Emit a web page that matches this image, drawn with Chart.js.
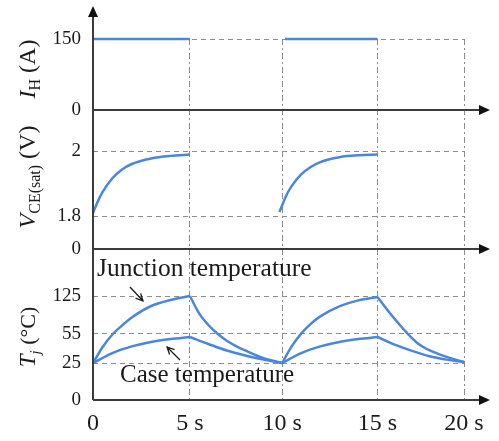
<!DOCTYPE html>
<html>
<head>
<meta charset="utf-8">
<script src="https://cdn.jsdelivr.net/npm/chart.js@4.4.1/dist/chart.umd.min.js"></script>
<style>
  html, body { margin: 0; padding: 0; background: #fff; }
  #wrap { width: 499px; height: 441px; }
</style>
</head>
<body>
<div id="wrap"><canvas id="chart" width="499" height="441"></canvas></div>
<script>
// time axis
const timeTicks = [0, 5, 10, 15, 20];
const timeLabels = ['0', '5 s', '10 s', '15 s', '20 s'];

// heating current I_H (A), null = current switched off
const currentTime = [0, 5, 7.5, 10.15, 15];
const currentAmps = [150, 150, null, 150, 150];
const currentTicks = [0, 150];

// V_CE(sat) (V)
const vceTime = [0, 0.25, 0.5, 1, 1.5, 2, 3, 4, 5, 7.5,
                 9.85, 10.25, 10.5, 11, 11.5, 12, 13, 14, 15];
const vceVolts = [1.809, 1.845, 1.874, 1.916, 1.943, 1.96, 1.977, 1.985, 1.989, null,
                  1.812, 1.867, 1.892, 1.928, 1.951, 1.966, 1.981, 1.987, 1.989];
const vceTicks = [0, 1.8, 2];

// temperatures (°C)
const junctionTime = [0, 0.5, 1, 1.5, 2, 3, 4, 5, 5.5, 6, 6.5, 7, 7.5, 8, 9, 10,
                      10.5, 11, 11.5, 12, 13, 14, 15, 15.7, 16.2, 16.7, 17.3, 17.85, 18.5, 19, 20];
const junctionTemp = [25, 41.6, 54.5, 70.7, 85.4, 106.6, 117.6, 125, 93, 71.6, 55.4, 48, 42.5, 38, 30, 25,
                      42.2, 55.7, 73.6, 87.4, 106, 116.9, 123.2, 94, 75, 57, 45.7, 39.5, 34.5, 31.3, 26];
const caseTime = [0, 1, 2, 3, 4, 5, 6, 7, 8, 9, 10,
                  11, 12, 13, 14, 15, 16, 17, 18, 19, 20];
const caseTemp = [25, 35.3, 42.2, 46.8, 49.8, 51.9, 44.7, 37.9, 32.8, 28.6, 25,
                  35.3, 42.2, 46.8, 49.8, 51.9, 44, 37.5, 32, 28.5, 26];
const tempTicks = [0, 25, 55, 125];

// heating / cooling phases, each drawn as its own smooth piece
const phaseBounds = [0, 5, 10, 15, 20];

// the drawing is schematic: axes are broken, so value -> fraction of axis length
const scaleBreaks = {
  x:  [[0, 0], [5, 0.2612], [10, 0.5098], [15, 0.7668], [20, 1]],
  yV: [[0, 0], [1.8, 0.2374], [2, 0.705], [2.126, 1]],
  yT: [[0, 0], [25, 0.245], [55, 0.4371], [125, 0.6887], [211.6, 1]]
};

const Linear = Chart.LinearScale || Chart.registry.getScale('linear');

class BrokenScale extends Linear {
  static id = 'broken';
  static defaults = {};
  toFraction(v) {
    const b = scaleBreaks[this.id];
    for (let i = 1; i < b.length; i++) {
      if (v <= b[i][0] || i === b.length - 1) {
        const [v0, f0] = b[i - 1], [v1, f1] = b[i];
        return f0 + (v - v0) / (v1 - v0) * (f1 - f0);
      }
    }
  }
  getPixelForValue(v) {
    if (v === null || v === undefined || isNaN(v)) return NaN;
    return this.getPixelForDecimal(this.toFraction(v));
  }
  getValueForPixel(p) {
    const d = this.getDecimalForPixel(p);
    const b = scaleBreaks[this.id];
    for (let i = 1; i < b.length; i++) {
      if (d <= b[i][1] || i === b.length - 1) {
        const [v0, f0] = b[i - 1], [v1, f1] = b[i];
        return v0 + (d - f0) / (f1 - f0) * (v1 - v0);
      }
    }
  }
}
Chart.register(BrokenScale);

const blue = '#4a86de';
const gridColor = '#8c8c8c';
const serif = 'Liberation Serif';

function points(xs, ys) {
  return xs.map((x, i) => ({ x: x, y: ys[i] }));
}

function phasePieces(xs, ys) {
  const pieces = [];
  for (let k = 0; k < phaseBounds.length - 1; k++) {
    const pts = points(xs, ys).filter(p => p.x >= phaseBounds[k] && p.x <= phaseBounds[k + 1]);
    if (pts.length > 1) pieces.push(pts);
  }
  return pieces;
}

function lineSet(data, axis) {
  return {
    data: data,
    yAxisID: axis,
    borderColor: blue,
    borderWidth: 2.5,
    pointRadius: 0,
    fill: false,
    clip: false,
    spanGaps: false,
    cubicInterpolationMode: 'monotone'
  };
}

const datasets = [
  lineSet(points(currentTime, currentAmps), 'yI'),
  lineSet(points(vceTime, vceVolts), 'yV')
];
phasePieces(junctionTime, junctionTemp).forEach(p => datasets.push(lineSet(p, 'yT')));
phasePieces(caseTime, caseTemp).forEach(p => datasets.push(lineSet(p, 'yT')));

function yAxis(min, max, ticks, weight, type) {
  return {
    type: type,
    position: 'left',
    stack: 'panels',
    stackWeight: weight,
    min: min,
    max: max,
    afterBuildTicks: s => { s.ticks = ticks.map(v => ({ value: v })); },
    afterFit: s => { s.width = 93; },
    grid: { color: gridColor, lineWidth: 1, drawTicks: false },
    border: { display: false, dash: [5, 4] },
    ticks: {
      padding: 12,
      autoSkip: false,
      color: '#1a1a1a',
      font: { family: serif, size: 19 }
    }
  };
}

function drawRotated(ctx, parts, cx, cy) {
  ctx.save();
  ctx.translate(cx, cy);
  ctx.rotate(-Math.PI / 2);
  let total = 0;
  parts.forEach(p => { ctx.font = p.font; p.w = ctx.measureText(p.text).width; total += p.w; });
  let x = -total / 2;
  ctx.textBaseline = 'alphabetic';
  parts.forEach(p => { ctx.font = p.font; ctx.fillText(p.text, x, p.dy); x += p.w; });
  ctx.restore();
}

function drawPointer(ctx, x1, y1, x2, y2) {
  const a = Math.atan2(y2 - y1, x2 - x1);
  ctx.beginPath();
  ctx.moveTo(x1, y1);
  ctx.lineTo(x2, y2);
  ctx.moveTo(x2 - 8 * Math.cos(a - 0.45), y2 - 8 * Math.sin(a - 0.45));
  ctx.lineTo(x2, y2);
  ctx.lineTo(x2 - 8 * Math.cos(a + 0.45), y2 - 8 * Math.sin(a + 0.45));
  ctx.stroke();
}

const decorations = {
  id: 'decorations',
  afterDraw(chart) {
    const { ctx, chartArea: a, scales } = chart;
    const x0 = a.left;
    const xEnd = 490;
    ctx.save();
    ctx.strokeStyle = '#3c3c3c';
    ctx.fillStyle = '#111';
    ctx.lineWidth = 2;

    // vertical axis with arrow
    ctx.beginPath();
    ctx.moveTo(x0, a.bottom);
    ctx.lineTo(x0, 15);
    ctx.stroke();
    ctx.beginPath();
    ctx.moveTo(x0, 6);
    ctx.lineTo(x0 - 5, 17);
    ctx.lineTo(x0 + 5, 17);
    ctx.closePath();
    ctx.fill();

    // zero line of each panel is a time axis with arrow
    ['yI', 'yV', 'yT'].forEach(id => {
      const y = Math.round(scales[id].getPixelForValue(0));
      ctx.beginPath();
      ctx.moveTo(x0, y);
      ctx.lineTo(xEnd - 8, y);
      ctx.stroke();
      ctx.beginPath();
      ctx.moveTo(xEnd, y);
      ctx.lineTo(xEnd - 11, y - 5);
      ctx.lineTo(xEnd - 11, y + 5);
      ctx.closePath();
      ctx.fill();
    });

    // axis titles
    ctx.fillStyle = '#1a1a1a';
    const big = '24px "' + serif + '"';
    const bigI = 'italic 24px "' + serif + '"';
    const small = '16px "' + serif + '"';
    drawRotated(ctx, [
      { text: 'I', font: bigI, dy: 8 },
      { text: 'H', font: small, dy: 13 },
      { text: ' (A)', font: big, dy: 8 }
    ], 27, 69);
    drawRotated(ctx, [
      { text: 'V', font: bigI, dy: 8 },
      { text: 'CE(sat)', font: small, dy: 13 },
      { text: ' (V)', font: big, dy: 8 }
    ], 27, 177);
    drawRotated(ctx, [
      { text: 'T', font: 'italic 23px "' + serif + '"', dy: 8 },
      { text: 'j', font: 'italic 15px "' + serif + '"', dy: 13 },
      { text: ' (°C)', font: '22px "' + serif + '"', dy: 8 }
    ], 27, 337);

    // curve annotations
    ctx.textBaseline = 'alphabetic';
    ctx.font = '25.5px "' + serif + '"';
    ctx.fillText('Junction temperature', 97, 276);
    ctx.font = '25px "' + serif + '"';
    ctx.fillText('Case temperature', 120, 382);
    ctx.strokeStyle = '#1a1a1a';
    ctx.lineWidth = 1.3;
    drawPointer(ctx, 130, 287, 143, 301);
    drawPointer(ctx, 180, 360, 167, 347);
    ctx.restore();
  }
};

new Chart(document.getElementById('chart'), {
  type: 'line',
  data: { datasets: datasets },
  options: {
    responsive: false,
    animation: false,
    layout: { padding: { left: 0, top: 39, right: 35, bottom: 0 } },
    plugins: { legend: { display: false }, tooltip: { enabled: false } },
    scales: {
      x: {
        type: 'broken',
        position: 'bottom',
        min: 0,
        max: 20,
        afterBuildTicks: s => { s.ticks = timeTicks.map(v => ({ value: v })); },
        afterFit: s => { s.height = 41; },
        grid: { color: gridColor, lineWidth: 1, drawTicks: false },
        border: { display: false, dash: [6, 3, 2, 3] },
        ticks: {
          padding: 9,
          autoSkip: false,
          maxRotation: 0,
          color: '#1a1a1a',
          font: { family: serif, size: 24 },
          callback: (v, i) => timeLabels[i]
        }
      },
      yT: yAxis(0, 211.6, tempTicks, 151, 'broken'),
      yV: yAxis(0, 2.126, vceTicks, 139, 'broken'),
      yI: yAxis(0, 150, currentTicks, 71, 'linear')
    }
  },
  plugins: [decorations]
});
</script>
</body>
</html>
